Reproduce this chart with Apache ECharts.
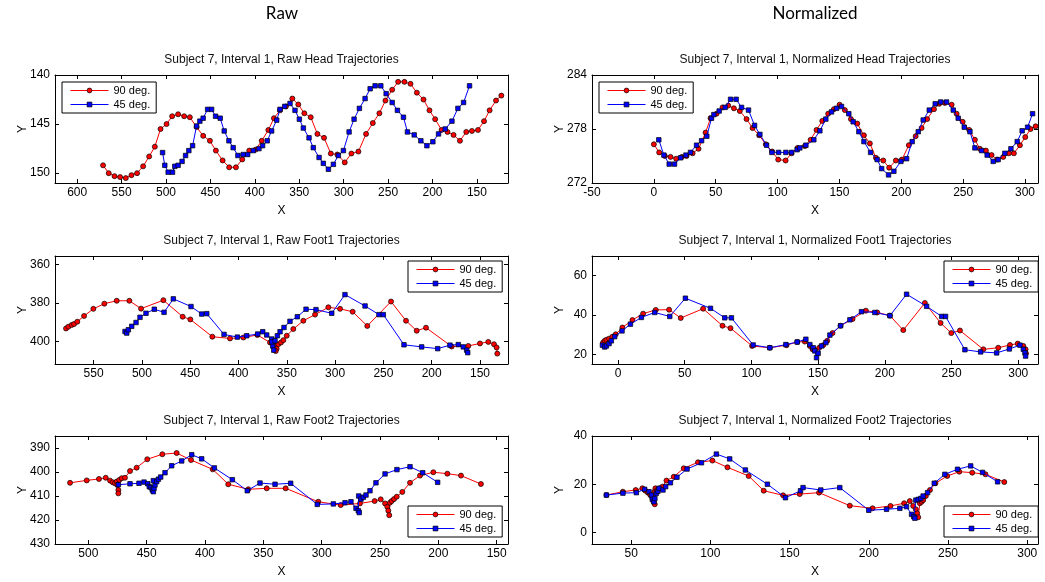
<!DOCTYPE html>
<html>
<head>
<meta charset="utf-8">
<title>Subject 7, Interval 1 trajectories</title>
<script src="https://cdn.jsdelivr.net/npm/echarts@6/dist/echarts.min.js"></script>
<style>
  html, body { margin: 0; padding: 0; background: #fff; }
  #chart { width: 1045px; height: 582px; }
</style>
</head>
<body>
<div id="chart"></div>
<script>
// ---- data ----
const seriesNames = ['90 deg.', '45 deg.']

const headRaw90 = [[570.9,149.2],[564.5,150.0],[558.0,150.3],[551.7,150.4],[545.3,150.5],[538.9,150.2],[532.6,150.0],[525.8,149.3],[519.0,148.3],[512.6,147.3],[506.2,145.5],[499.4,145.0],[493.1,144.2],[486.4,144.0],[479.6,144.2],[473.2,144.3],[465.6,145.3],[458.2,146.2],[450.6,146.7],[443.9,147.7],[436.3,148.7],[428.9,149.4],[421.3,149.4],[414.2,148.6],[406.3,147.7],[399.1,147.6],[392.3,146.7],[384.8,145.6],[378.5,144.4],[371.7,143.6],[365.0,143.2],[357.8,142.4],[351.1,143.0],[344.3,143.9],[337.1,144.3],[329.6,146.0],[322.1,146.4],[314.5,148.0],[307.1,148.1],[298.8,148.9],[291.3,148.0],[283.4,147.8],[274.8,146.0],[267.2,144.9],[259.8,143.9],[253.0,142.6],[245.4,141.5],[238.7,140.7],[231.6,140.7],[224.8,140.9],[217.6,141.8],[210.1,142.5],[203.4,143.6],[197.0,144.5],[189.8,145.6],[183.1,145.8],[176.3,146.1],[169.1,146.7],[162.0,145.8],[155.6,145.7],[148.8,145.6],[142.0,144.7],[135.7,143.6],[128.5,142.6],[122.5,142.1]]
const headRaw45 = [[503.9,147.9],[501.4,149.2],[497.6,149.9],[492.7,149.9],[490.1,149.3],[486.4,149.2],[481.9,148.8],[478.0,148.2],[474.3,147.7],[470.1,147.2],[465.6,145.2],[461.9,144.7],[458.2,144.4],[453.2,143.5],[448.7,143.5],[444.2,144.2],[439.0,144.4],[434.5,145.7],[429.2,146.7],[424.4,147.4],[419.1,148.2],[413.1,148.1],[408.1,148.1],[401.8,147.7],[395.4,147.5],[391.3,147.2],[386.0,146.7],[381.1,145.7],[375.4,144.6],[371.7,143.5],[366.4,143.2],[360.4,142.9],[354.8,143.6],[349.9,144.5],[345.4,145.4],[339.0,146.4],[334.2,147.4],[327.7,148.4],[322.9,149.0],[317.2,149.6],[311.6,149.1],[306.0,148.2],[300.3,147.7],[293.9,145.8],[288.3,144.5],[282.3,143.4],[275.9,142.4],[270.2,141.4],[264.6,141.1],[258.2,141.1],[252.2,141.9],[245.4,142.8],[239.5,143.6],[232.7,144.3],[228.2,145.8],[220.6,146.1],[213.1,146.7],[206.3,147.2],[199.6,146.8],[193.2,146.0],[185.7,145.5],[178.1,144.7],[171.4,143.4],[165.0,142.8],[158.3,141.1]]

const headNorm90 = [[0,276.3],[4.3,275.4],[8.9,275.0],[13.5,274.9],[18.0,274.7],[22.6,274.9],[26.4,275.0],[31.3,275.3],[36.1,275.8],[41.8,277.6],[45.8,279.2],[50.7,279.7],[55.5,280.4],[60.1,280.6],[64.7,280.3],[69.5,280.0],[74.9,279.1],[79.8,278.1],[85.1,277.3],[90.5,276.3],[95.6,275.5],[100.5,274.6],[106.5,274.5],[111.3,275.3],[116.2,275.9],[122.1,276.1],[126.7,276.8],[131.5,277.9],[136.1,278.9],[140.9,279.7],[145.5,280.2],[150.1,280.7],[154.4,280.1],[159.3,279.1],[164.4,278.6],[169.8,277.3],[174.6,276.4],[179.5,274.8],[185.4,274.5],[190.2,273.7],[195.6,274.5],[200.5,274.6],[206.1,276.2],[211.6,277.2],[216.4,278.1],[220.9,279.1],[226.4,280.2],[230.6,280.8],[235.2,280.9],[240.7,280.7],[244.7,279.7],[249.6,278.8],[254.9,277.9],[259.5,276.8],[263.5,275.8],[268.4,275.6],[273.0,275.1],[277.5,274.6],[282.4,274.9],[287.0,275.3],[291.0,275.3],[295.9,276.2],[300.2,277.1],[304.5,278.0],[308.6,278.3]]
const headNorm45 = [[4.0,276.8],[8.1,275.1],[12.4,274.1],[16.7,274.1],[21.6,274.8],[25.9,275.1],[29.6,275.4],[34.5,276.2],[38.6,276.7],[42.8,277.2],[46.6,279.2],[48.5,279.6],[52.8,280.0],[57.6,280.4],[62.0,281.3],[66.5,281.3],[70.9,280.4],[76.5,280.1],[81.4,278.4],[85.7,277.4],[91.1,276.2],[95.4,275.4],[100.8,275.4],[106.7,275.4],[111.3,275.4],[115.8,275.7],[118.0,275.9],[122.9,276.2],[129.3,276.8],[134.2,277.8],[139.0,279.1],[143.6,279.9],[147.7,280.3],[151.7,280.5],[157.6,279.7],[161.1,278.8],[165.7,277.7],[169.8,276.6],[175.2,275.4],[180.5,274.6],[184.1,273.6],[189.7,272.9],[194.0,273.3],[199.7,274.4],[204.3,274.7],[208.8,276.6],[213.7,277.7],[217.7,279.0],[222.6,280.1],[227.4,280.8],[231.8,281.0],[236.6,281.0],[242.0,280.1],[246.0,279.2],[250.9,278.2],[255.5,277.7],[259.5,275.9],[264.9,275.6],[269.4,275.1],[274.3,274.4],[278.3,274.6],[283.7,275.3],[288.6,275.8],[293.7,276.6],[297.7,277.8],[302.1,278.2],[306.1,279.7]]

const foot1Raw90 = [[578.6,393.2],[576.2,392.3],[572.7,391.4],[570.3,390.9],[566.9,389.7],[559.9,386.7],[550.3,383.0],[538.9,380.3],[526.1,378.8],[513.0,378.8],[500.9,382.9],[477.8,378.5],[457.8,387.1],[449.9,388.5],[427.1,397.5],[408.8,398.4],[395.0,397.9],[380.5,396.6],[367.4,400.5],[364.0,401.5],[362.2,402.3],[360.5,403.7],[361.5,405.0],[358.8,401.4],[356.0,400.5],[353.6,399.3],[350.1,397.0],[343.3,393.5],[332.9,389.2],[320.8,386.0],[307.0,382.2],[294.9,383.0],[281.8,384.5],[266.7,391.9],[242.1,379.2],[226.6,389.2],[215.5,394.4],[205.9,392.8],[179.3,402.6],[162.1,402.3],[150.0,401.0],[141.4,400.2],[135.5,401.4],[132.8,403.1],[132.1,406.3]]
const foot1Raw45 = [[517.5,394.8],[515.7,395.6],[514.1,393.9],[510.6,392.1],[506.1,390.1],[502.0,387.4],[495.8,385.3],[487.2,383.2],[477.1,384.8],[467.5,377.8],[449.2,381.8],[438.1,385.7],[432.9,385.5],[415.0,396.3],[401.2,397.7],[391.5,397.0],[380.1,396.1],[374.9,394.9],[370.8,396.6],[365.6,398.7],[364.6,402.3],[363.5,404.5],[365.6,400.2],[362.2,399.6],[359.8,397.0],[357.0,394.9],[352.9,392.7],[346.7,389.5],[339.1,387.1],[330.1,383.2],[319.8,383.4],[303.5,385.3],[289.8,375.6],[269.0,381.5],[254.6,386.0],[250.1,386.0],[228.7,401.7],[210.4,402.8],[193.8,403.7],[181.1,401.9],[172.5,401.6],[167.3,402.8],[163.8,404.5],[162.7,405.8]]

const foot1Norm90 = [[-11.2,26.1],[-10.0,27.0],[-8.7,27.5],[-6.7,28.1],[-4.2,29.1],[-1.7,30.3],[3.3,33.7],[10.8,37.5],[18.8,40.7],[28.3,42.6],[38.3,42.7],[47.0,38.5],[63.8,43.2],[78.3,34.6],[84.3,33.4],[100.5,24.4],[113.8,23.5],[126.3,24.8],[134.3,26.4],[140.0,26.6],[143.8,24.4],[145.8,22.7],[147.5,22.4],[150.8,23.5],[153.8,24.8],[156.8,27.0],[160.8,30.9],[166.8,34.6],[175.8,38.0],[185.8,42.2],[194.3,41.3],[203.8,39.7],[213.8,32.4],[230.0,46.1],[241.8,36.0],[249.8,30.9],[256.3,32.2],[273.8,22.7],[285.0,23.5],[293.8,24.9],[299.6,25.6],[303.8,24.4],[305.5,22.7],[305.8,20.7]]
const foot1Norm45 = [[-11.7,24.8],[-10.0,23.9],[-8.7,24.4],[-6.7,25.6],[-5.0,27.0],[-2.5,29.1],[3.0,32.0],[9.3,35.4],[17.5,38.8],[27.5,41.3],[38.8,39.3],[50.5,48.5],[69.3,43.4],[80.0,38.6],[85.0,38.6],[101.3,24.9],[113.8,23.5],[125.8,25.1],[134.3,26.4],[140.8,27.8],[143.8,25.1],[146.3,23.5],[147.5,21.9],[148.8,18.5],[150.0,20.7],[152.5,24.4],[155.8,26.1],[158.8,29.9],[166.8,34.6],[173.8,37.6],[182.5,41.7],[192.5,41.3],[203.8,39.7],[216.3,50.5],[231.3,44.4],[242.6,39.3],[245.5,39.3],[260.0,22.5],[271.8,21.4],[283.8,20.9],[293.3,22.9],[301.3,24.8],[303.8,22.7],[305.0,21.0],[305.5,19.3]]

const foot2Raw90 = [[515.7,404.5],[501.4,403.5],[490.9,402.9],[485.1,402.4],[481.4,403.6],[479.1,404.3],[477.2,404.7],[475.7,404.0],[475.2,405.4],[474.3,407.5],[474.3,408.9],[473.5,403.3],[471.4,402.6],[468.6,402.4],[464.3,399.6],[458.6,398.2],[449.5,394.7],[436.6,392.6],[424.3,392.1],[412.0,395.0],[393.4,398.9],[380.1,405.1],[362.9,407.2],[347.1,406.8],[330.9,406.8],[302.9,412.4],[283.7,413.8],[267.2,413.1],[254.6,412.1],[249.4,411.4],[245.7,413.1],[243.8,414.5],[242.9,416.1],[242.1,418.0],[241.5,412.8],[240.0,412.1],[238.0,411.3],[235.7,410.3],[230.9,408.3],[224.3,404.5],[215.7,401.5],[204.3,400.1],[192.3,400.7],[180.6,401.5],[163.5,405.0]]
const foot2Raw45 = [[474.3,405.3],[464.3,404.9],[456.6,404.7],[452.3,404.2],[449.1,404.9],[447.8,406.1],[446.3,406.5],[445.2,407.5],[444.3,408.2],[443.7,406.8],[442.9,405.4],[444.3,403.6],[441.4,404.0],[440.0,403.0],[438.0,402.1],[434.3,400.3],[428.6,397.4],[420.0,395.4],[411.4,392.8],[402.9,394.5],[392.0,398.3],[376.6,403.2],[363.8,407.8],[352.9,404.6],[340.0,405.1],[326.6,404.7],[303.8,413.5],[290.0,413.3],[280.0,412.8],[274.9,412.4],[270.6,415.1],[268.6,416.1],[267.8,416.9],[268.3,410.0],[266.3,411.3],[264.3,410.5],[262.0,409.6],[258.6,407.8],[253.5,404.5],[245.7,400.8],[235.5,399.0],[224.3,397.8],[213.4,400.3],[200.6,404.3]]

const foot2Norm90 = [[34.4,15.5],[44.8,16.9],[52.9,17.6],[57.1,18.3],[59.0,17.3],[60.6,16.5],[62.1,15.5],[63.4,14.1],[64.2,12.7],[64.9,11.7],[64.7,16.9],[65.3,18.3],[66.3,17.6],[68.0,18.3],[69.7,19.0],[72.3,21.5],[76.9,23.1],[83.2,26.6],[92.2,29.1],[101.3,29.8],[110.8,27.0],[124.2,23.4],[133.7,17.3],[145.9,15.4],[156.4,15.9],[168.6,16.5],[188.0,11.1],[202.4,10.0],[213.7,11.0],[222.3,12.1],[225.9,13.0],[228.0,11.0],[229.7,9.6],[230.5,7.9],[231.2,6.3],[232.2,12.1],[233.3,12.7],[234.3,13.4],[236.0,15.1],[238.6,17.6],[242.1,20.4],[249.5,23.4],[257.1,25.2],[265.3,24.8],[273.7,24.1],[285.5,20.9]]
const foot2Norm45 = [[34.4,15.5],[44.8,16.3],[53.3,16.5],[58.5,17.9],[61.3,16.9],[62.8,15.5],[63.4,13.7],[64.4,12.7],[65.0,14.1],[65.9,16.2],[66.9,17.1],[67.6,18.3],[70.1,17.6],[71.8,19.0],[74.8,20.6],[78.9,22.9],[85.3,26.3],[94.4,28.9],[103.8,32.5],[112.2,30.5],[122.1,25.9],[136.0,20.0],[147.4,14.4],[156.9,17.3],[158.5,18.6],[169.7,17.6],[181.7,18.6],[200.0,9.2],[211.2,9.6],[219.6,10.0],[223.8,10.7],[227.0,7.5],[228.4,6.5],[229.1,5.9],[229.7,13.4],[231.2,13.7],[232.9,14.1],[234.3,15.1],[237.1,16.5],[241.3,20.4],[248.0,24.1],[256.0,26.2],[264.3,27.6],[271.8,24.9],[281.3,21.0]]

// tick values
const headRawXTicks = [150, 200, 250, 300, 350, 400, 450, 500, 550, 600]
const headRawYTicks = [140, 145, 150]
const headNormXTicks = [-50, 0, 50, 100, 150, 200, 250, 300]
const headNormYTicks = [272, 278, 284]
const foot1RawXTicks = [150, 200, 250, 300, 350, 400, 450, 500, 550]
const foot1RawYTicks = [360, 380, 400]
const foot1NormXTicks = [0, 50, 100, 150, 200, 250, 300]
const foot1NormYTicks = [20, 40, 60]
const foot2RawXTicks = [150, 200, 250, 300, 350, 400, 450, 500]
const foot2RawYTicks = [390, 400, 410, 420, 430]
const foot2NormXTicks = [50, 100, 150, 200, 250, 300]
const foot2NormYTicks = [0, 20, 40]

// ---- layout ----
const FONT = '"Liberation Sans", Arial, Helvetica, sans-serif'
const colLeft = [55, 592]
const colWidth = [453, 446]
const rowTop = [75, 256, 436]
const plotHeight = 108

const panels = [
  { title: 'Subject 7, Interval 1, Raw Head Trajectories', d90: headRaw90, d45: headRaw45,
    x: [115, 625], y: [140, 151], xTicks: headRawXTicks, yTicks: headRawYTicks, raw: true, col: 0, row: 0, legend: [62, 82] },
  { title: 'Subject 7, Interval 1, Normalized Head Trajectories', d90: headNorm90, d45: headNorm45,
    x: [-50, 310.5], y: [272, 284], xTicks: headNormXTicks, yTicks: headNormYTicks, raw: false, col: 1, row: 0, legend: [599, 82] },
  { title: 'Subject 7, Interval 1, Raw Foot1 Trajectories', d90: foot1Raw90, d45: foot1Raw45,
    x: [121, 590], y: [355.5, 411.7], xTicks: foot1RawXTicks, yTicks: foot1RawYTicks, raw: true, col: 0, row: 1, legend: [408, 261] },
  { title: 'Subject 7, Interval 1, Normalized Foot1 Trajectories', d90: foot1Norm90, d45: foot1Norm45,
    x: [-19.5, 314.8], y: [15.3, 69.8], xTicks: foot1NormXTicks, yTicks: foot1NormYTicks, raw: false, col: 1, row: 1, legend: [944, 261] },
  { title: 'Subject 7, Interval 1, Raw Foot2 Trajectories', d90: foot2Raw90, d45: foot2Raw45,
    x: [140.3, 528.6], y: [385, 430], xTicks: foot2RawXTicks, yTicks: foot2RawYTicks, raw: true, col: 0, row: 2, legend: [408, 506] },
  { title: 'Subject 7, Interval 1, Normalized Foot2 Trajectories', d90: foot2Norm90, d45: foot2Norm45,
    x: [25.3, 306.8], y: [-4.8, 40], xTicks: foot2NormXTicks, yTicks: foot2NormYTicks, raw: false, col: 1, row: 2, legend: [944, 506] }
]

const axisCommon = (gridIndex, range, inverse, ticks, position, showLabel) => ({
  type: 'value',
  gridIndex: gridIndex,
  position: position,
  min: range[0],
  max: range[1],
  inverse: inverse,
  splitLine: { show: false },
  axisLine: { show: true, onZero: false, lineStyle: { color: '#000', width: 1 } },
  axisTick: { show: true, inside: true, length: 4, customValues: ticks, lineStyle: { color: '#000' } },
  axisLabel: {
    show: showLabel,
    customValues: ticks,
    color: '#000',
    fontSize: 12,
    fontFamily: FONT,
    margin: position === 'bottom' ? 4 : 5
  }
})

const grid = []
const xAxis = []
const yAxis = []
const series = []
const legend = []
const title = [
  { text: 'Raw', left: 282, top: 5, textAlign: 'center', padding: 0,
    textStyle: { fontSize: 17, fontWeight: 'normal', color: '#000', fontFamily: 'Lato, "Open Sans", sans-serif' } },
  { text: 'Normalized', left: 815, top: 5, textAlign: 'center', padding: 0,
    textStyle: { fontSize: 17, fontWeight: 'normal', color: '#000', fontFamily: 'Lato, "Open Sans", sans-serif' } }
]

panels.forEach((p, i) => {
  const left = colLeft[p.col]
  const width = colWidth[p.col]
  const top = rowTop[p.row]

  grid.push({ left: left, top: top, width: width, height: plotHeight, containLabel: false })

  title.push({
    text: p.title, left: left + width / 2, top: top - 21, textAlign: 'center', padding: 0,
    textStyle: { fontSize: 12, fontWeight: 'normal', color: '#111', fontFamily: FONT }
  })

  const xb = axisCommon(i, p.x, p.raw, p.xTicks, 'bottom', true)
  xb.name = 'X'
  xb.nameLocation = 'middle'
  xb.nameGap = 22
  xb.nameMoveOverlap = false
  xb.nameTextStyle = { color: '#000', fontSize: 12, fontFamily: FONT }
  xAxis.push(xb)
  xAxis.push(axisCommon(i, p.x, p.raw, p.xTicks, 'top', false))

  const yl = axisCommon(i, p.y, p.raw, p.yTicks, 'left', true)
  yl.name = 'Y'
  yl.nameLocation = 'middle'
  yl.nameGap = 26
  yl.nameMoveOverlap = false
  yl.nameTextStyle = { color: '#000', fontSize: 12, fontFamily: FONT }
  yAxis.push(yl)
  yAxis.push(axisCommon(i, p.y, p.raw, p.yTicks, 'right', false))

  series.push({
    name: seriesNames[0], type: 'line', xAxisIndex: 2 * i, yAxisIndex: 2 * i,
    data: p.d90, symbol: 'circle', symbolSize: 5, showAllSymbol: true,
    lineStyle: { color: '#ff0000', width: 1 },
    itemStyle: { color: '#ff0000', borderColor: '#000', borderWidth: 0.7 },
    emphasis: { disabled: true }, z: 2
  })
  series.push({
    name: seriesNames[1], type: 'line', xAxisIndex: 2 * i, yAxisIndex: 2 * i,
    data: p.d45, symbol: 'rect', symbolSize: 4.5, showAllSymbol: true,
    lineStyle: { color: '#0000ff', width: 1 },
    itemStyle: { color: '#0000ff', borderColor: '#000', borderWidth: 0.7 },
    emphasis: { disabled: true }, z: 3
  })

  legend.push({
    data: seriesNames,
    orient: 'vertical',
    left: p.legend[0],
    top: p.legend[1],
    itemWidth: 38,
    itemHeight: 6,
    itemGap: 3,
    padding: [3, 6, 3, 8],
    backgroundColor: '#fff',
    borderColor: '#000',
    borderWidth: 1,
    selectedMode: false,
    lineStyle: { width: 1 },
    itemStyle: { borderWidth: 0.7 },
    textStyle: { fontSize: 11, color: '#000', fontFamily: FONT }
  })
})

const chart = echarts.init(document.getElementById('chart'))
chart.setOption({
  animation: false,
  backgroundColor: '#fff',
  title: title,
  grid: grid,
  xAxis: xAxis,
  yAxis: yAxis,
  legend: legend,
  series: series
})
</script>
</body>
</html>
